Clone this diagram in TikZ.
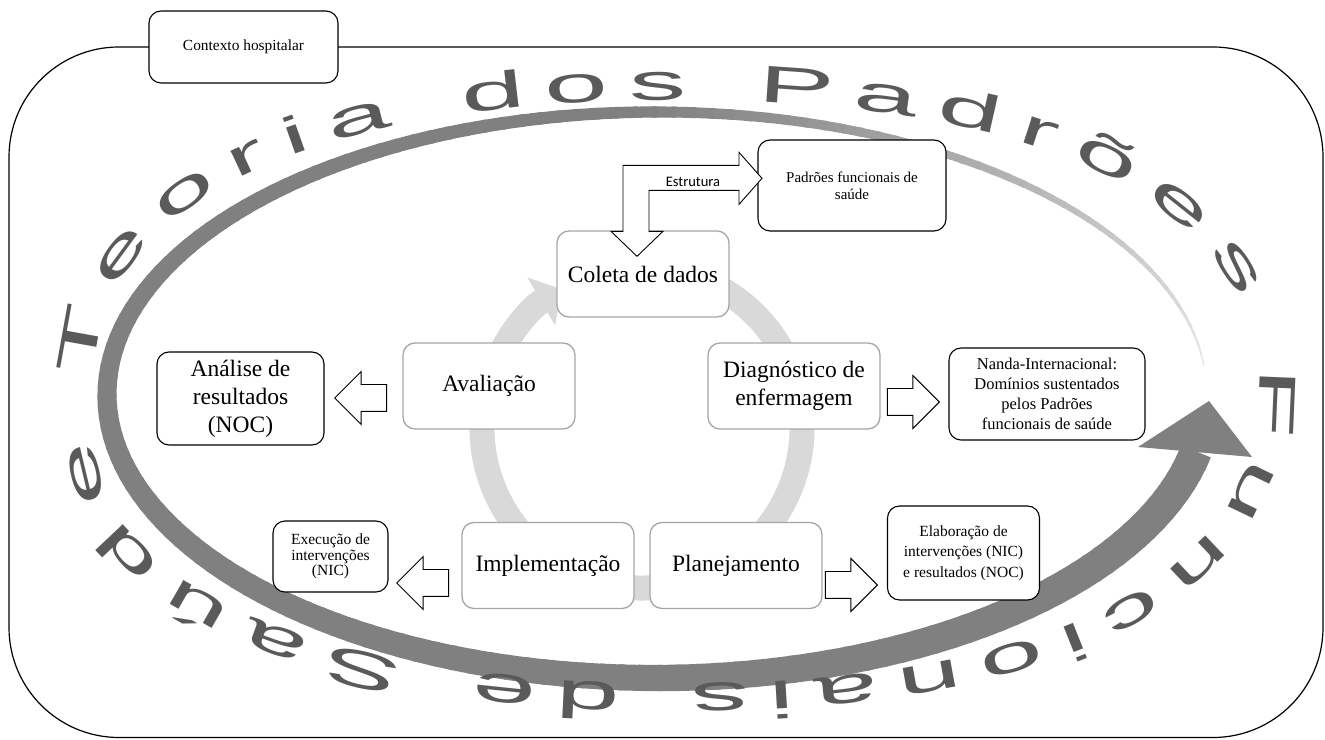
\documentclass[tikz,border=0pt]{standalone}
\usepackage{fontspec}
\setmainfont{Liberation Serif}
\newfontfamily\rotulofont{Carlito}
\newfontfamily\arcofont[FakeStretch=2.2]{Liberation Sans}
\usetikzlibrary{positioning,arrows.meta,shapes.arrows,decorations.text,calc}
\definecolor{borda}{HTML}{A6A6A6}
\definecolor{anel}{HTML}{D9D9D9}
\definecolor{letra}{HTML}{5A5A5A}

\begin{document}
\begin{tikzpicture}[x=1pt, y=1pt,
    fase/.style={draw=borda, fill=white, rounded corners=12pt, line width=1.3pt, align=center,
                 minimum width=172pt, minimum height=86pt, inner sep=2pt,
                 font=\fontsize{23.5}{28}\selectfont},
    nota/.style={draw=black, fill=white, rounded corners=12pt, line width=1.1pt, align=center,
                 inner sep=2pt},
    bloco/.style={single arrow, draw=black, fill=white, line width=0.9pt, minimum height=52pt,
                  inner xsep=0pt, inner ysep=13pt, single arrow head extend=13pt, anchor=tip}]
  \useasboundingbox (0,0) rectangle (1325,739);
  % moldura do contexto
  \draw[line width=1.2pt, rounded corners=110pt] (9,1.5) rectangle (1323,692);
  % seta cinza em volta
  \foreach \a in {6,8,...,346}{
    \pgfmathsetmacro\pfr{(\a-4)/342}
    \pgfmathsetmacro\lw{1+31*\pfr^0.8}
    \pgfmathsetmacro\tom{min(50,8+165*\pfr)}
    \draw[line width=\lw pt, draw=black!\tom] (657,344) ++(\a:550 and 283)
      arc[start angle=\a, end angle=\a+2.5, x radius=550, y radius=283];
  }
  \fill[black!50] (1138,292) -- (1209,338) -- (1252,282) -- cycle;
  % texto curvo
  \path[decorate, decoration={text along path, text align={fit to path},
        text={|\fontsize{52}{52}\arcofont\color{letra}|Teoria dos Padrões Funcionais de Saúde}}]
    (95,362) .. controls (95,533) and (306,639) .. (677,639)
    .. controls (1048,639) and (1259,533) .. (1259,347)
    .. controls (1259,161) and (1048,55) .. (677,55)
    .. controls (306,55) and (95,161) .. (95,300);
  % ciclo
  \draw[anel, line width=25pt, -{Triangle[length=24pt, width=54pt]}] (642,311) ++(70:160)
    arc[start angle=70, end angle=-240, radius=160];
  \node[fase] (coleta) at (643,465) {Coleta de dados};
  \node[fase] (diag) at (794,353) {Diagnóstico de\\enfermagem};
  \node[fase] (plan) at (736,173.5) {Planejamento};
  \node[fase] (impl) at (548,173.5) {Implementação};
  \node[fase] (aval) at (489,353) {Avaliação};
  % caixas externas
  \node[nota, minimum width=167pt, minimum height=93pt, font=\fontsize{23.5}{28}\selectfont]
    (analise) at (240.5,340.5) {Análise de\\resultados\\(NOC)};
  \node[nota, minimum width=196pt, minimum height=92pt, font=\fontsize{16.5}{20}\selectfont]
    (nanda) at (1047,345) {Nanda-Internacional:\\Domínios sustentados\\pelos Padrões\\funcionais de saúde};
  \node[nota, minimum width=188pt, minimum height=91pt, font=\fontsize{15}{17}\selectfont]
    (padroes) at (852,553.5) {Padrões funcionais de\\saúde};
  \node[nota, minimum width=115pt, minimum height=71pt, font=\fontsize{15.5}{15.7}\selectfont]
    (execucao) at (330.5,182.5) {Execução de\\intervenções\\(NIC)};
  \node[nota, minimum width=152pt, minimum height=94pt, font=\fontsize{15.5}{20.5}\selectfont]
    (elab) at (963.5,186) {Elaboração de\\intervenções (NIC)\\e resultados (NOC)};
  % setas de bloco
  \node[bloco, shape border rotate=180] (s1) at (334,341) {};
  \node[bloco] (s2) at (940,337) {};
  \node[bloco, shape border rotate=180] (s3) at (396,156) {};
  \node[bloco] (s4) at (878,154) {};
  \draw[fill=white, line width=0.9pt] ($(coleta.north)+(-6,-26)$) -- ++(26,25) -- ++(-14,0)
    -- ++(0,41) -- ++(90,0) -- ++(0,-14) -- ++(23,26) -- ++(-23,26) -- ++(0,-13)
    -- ++(-116,0) -- ++(0,-66) -- ++(-12,0) -- cycle;
  \node[font=\rotulofont\fontsize{14.5}{16}\selectfont] (estrutura) at (693,557) {Estrutura};
  \node[nota, minimum width=189pt, minimum height=72pt, font=\fontsize{15.4}{18}\selectfont]
    (contexto) at (243.5,692) {Contexto hospitalar};
\end{tikzpicture}
\end{document}
